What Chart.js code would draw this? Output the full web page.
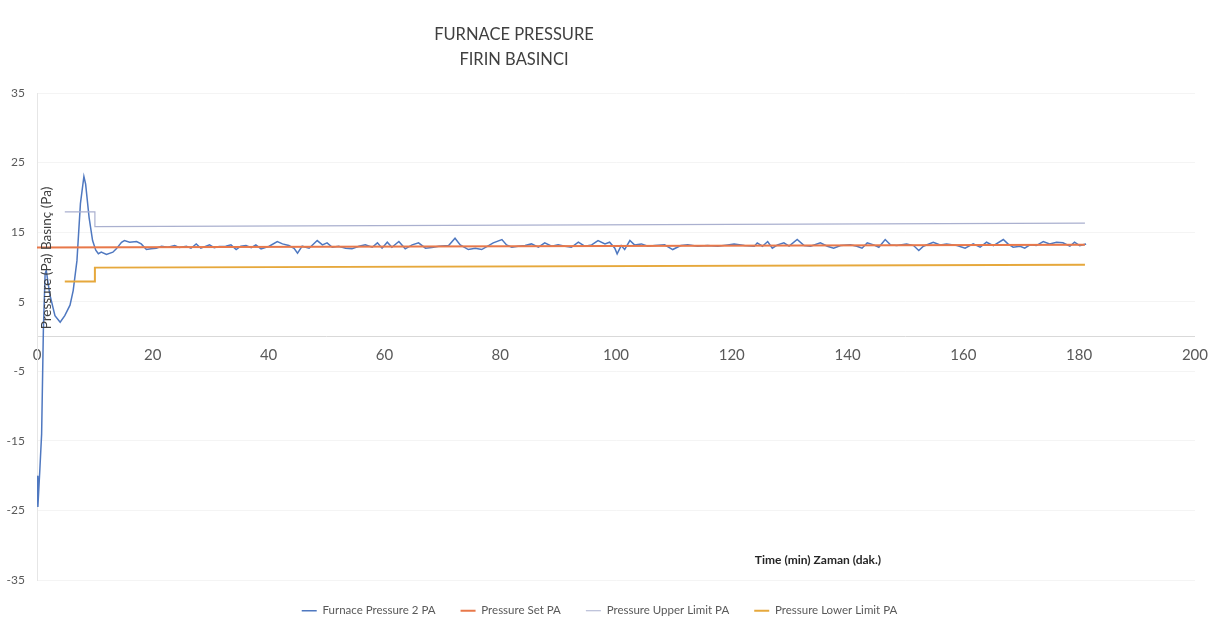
<!DOCTYPE html>
<html>
<head>
<meta charset="utf-8">
<title>Furnace Pressure</title>
<script src="https://cdn.jsdelivr.net/npm/chart.js@4/dist/chart.umd.min.js"></script>
<style>
  html, body { margin: 0; padding: 0; background: #ffffff; }
  #wrap { width: 1218px; height: 628px; }
</style>
</head>
<body>
<div id="wrap"><canvas id="pressureChart" width="1218" height="628"></canvas></div>
<script>
// Texts
const titleLines = ['FURNACE PRESSURE', 'FIRIN BASINCI'];
const yAxisTitle = 'Pressure (Pa) Basınç (Pa)';
const xAxisTitle = 'Time (min) Zaman (dak.)';
const seriesNames = ['Furnace Pressure 2 PA', 'Pressure Set PA', 'Pressure Upper Limit PA', 'Pressure Lower Limit PA'];

// Axis ticks
const yTicks = [-35, -25, -15, -5, 5, 15, 25, 35];

// Furnace pressure (min, Pa)
const furnaceTime = [
    0, 0.15, 0.5, 0.8, 1.1, 1.4, 1.6, 2.2, 3.1, 4.0, 4.8, 5.7, 6.25, 6.9, 7.5, 8.1, 8.4, 9.0, 9.6, 10.15,
    10.6, 11.1, 12.0, 13.1, 13.7, 14.6, 15.1, 16.0, 17.2, 18.0, 18.9, 19.7, 20.6, 21.5, 22.6, 23.8, 24.6, 25.8, 26.6, 27.5,
    28.3, 29.8, 30.6, 31.5, 32.6, 33.5, 34.4, 35.2, 36.1, 37.0, 37.8, 38.7, 40.1, 41.5, 42.4, 43.5, 44.4, 45.0, 45.8, 47.0,
    48.4, 49.3, 50.1, 51.0, 52.1, 53.3,
    54.4, 55.6, 56.7, 57.9, 58.8, 59.6, 60.5, 61.3, 62.5, 63.6, 64.8, 65.9, 67.1, 68.2, 69.4, 71.1, 72.2, 73.1, 74.5, 75.7,
    76.8, 78.0, 78.8, 80.3, 81.1, 82.0, 83.1, 84.3, 85.4, 86.6, 87.7, 88.9, 90.0, 91.2, 92.3, 93.5, 94.6, 95.8,
    96.9, 98.1, 98.9, 99.8, 100.2, 100.9, 101.5, 102.4, 103.2, 104.4, 105.5, 106.7, 108.4, 109.8, 111.2, 112.4, 114.1, 115.8,
    117.6, 119.3, 120.4, 122.2, 123.9, 124.4, 125.3, 126.2, 127.0, 127.9, 129.0, 129.9, 131.3, 132.5, 133.6, 135.3, 136.5,
    137.6, 138.8,
    140.5, 141.6, 142.5, 143.4, 144.5, 145.4, 146.5, 147.4, 148.5, 150.2, 151.4, 152.3, 153.1, 154.8, 156.0, 157.1, 158.9,
    160.3, 161.7, 162.9, 164.0, 165.2, 166.9, 167.7, 168.6, 169.8, 170.6, 171.5, 172.6, 173.8, 174.9, 176.1, 177.2, 178.4,
    179.2, 180.1, 181.2
];
const furnacePa = [
    -20, -24.5, -19, -14, 0.9, 9, 9.5, 6.1, 3.0, 2.05, 3.0, 4.5, 6.6, 10.9, 19.1, 23.0, 21.9, 17.1, 13.8, 12.4,
    11.9, 12.12, 11.78, 12.12, 12.6, 13.55, 13.79, 13.55, 13.65, 13.31, 12.5, 12.6, 12.69, 12.98, 12.83, 13.07, 12.78, 12.98, 12.69, 13.31,
    12.69, 13.17, 12.78, 12.93, 12.98, 13.17, 12.5, 12.98, 13.07, 12.78, 13.17, 12.6, 12.98, 13.65, 13.31, 13.07, 12.69, 11.97, 12.98, 12.69,
    13.79, 13.17, 13.46, 12.83, 12.98, 12.69,
    12.60, 12.98, 13.17, 12.83, 13.46, 12.69, 13.55, 12.83, 13.65, 12.60, 13.17, 13.46, 12.69, 12.78, 12.98, 13.07, 14.13, 13.17, 12.50, 12.69,
    12.50, 13.07, 13.46, 13.94, 13.17, 12.83, 12.98, 13.07, 13.31, 12.83, 13.46, 12.98, 13.17, 12.98, 12.83, 13.55, 12.98, 13.17,
    13.79, 13.31, 13.55, 12.69, 11.88, 13.07, 12.50, 13.79, 13.17, 13.31, 12.98, 13.07, 13.17, 12.50, 13.07, 13.17, 12.98, 13.07,
    12.98, 13.17, 13.31, 13.07, 12.98, 13.46, 12.98, 13.65, 12.69, 13.17, 13.46, 12.98, 13.94, 13.07, 12.98, 13.46, 12.98,
    12.69, 13.07,
    13.17, 12.98, 12.69, 13.46, 13.17, 12.83, 13.94, 13.17, 13.07, 13.31, 13.07, 12.36, 12.98, 13.55, 13.17, 13.31, 13.07,
    12.69, 13.31, 12.83, 13.55, 13.07, 13.94, 13.31, 12.83, 12.98, 12.69, 13.17, 13.07, 13.65, 13.31, 13.55, 13.46, 12.98,
    13.55, 13.07, 13.31
];

// Set point and limits
const setTime = [0, 181];
const setPa = [12.8, 13.2];
const upperTime = [4.8, 10, 10, 181];
const upperPa = [17.9, 17.9, 15.8, 16.3];
const lowerTime = [4.8, 10, 10, 181];
const lowerPa = [7.9, 7.9, 9.9, 10.3];

const FONT = 'Lato, "Open Sans", sans-serif';

function toPoints(xs, ys) {
    return xs.map((x, i) => ({ x: x, y: ys[i] }));
}

// Titles are not centred on the plot in the original, so draw them by hand
const chartTexts = {
    id: 'chartTexts',
    afterDraw(chart) {
        const ctx = chart.ctx;
        ctx.save();
        ctx.fillStyle = '#404040';
        ctx.textAlign = 'center';
        ctx.textBaseline = 'middle';
        ctx.font = '16.5px ' + FONT;
        ctx.fillText(titleLines[0], 514, 35);
        ctx.fillText(titleLines[1], 514, 60);

        ctx.font = 'bold 12px ' + FONT;
        ctx.fillStyle = '#262626';
        ctx.fillText(xAxisTitle, 818, 560);

        ctx.translate(47, 258);
        ctx.rotate(-Math.PI / 2);
        ctx.font = '13.5px ' + FONT;
        ctx.fillStyle = '#404040';
        ctx.fillText(yAxisTitle, 0, 0);
        ctx.restore();
    }
};

const ctxPressure = document.getElementById('pressureChart').getContext('2d');
new Chart(ctxPressure, {
    type: 'line',
    data: {
        datasets: [
            {
                label: seriesNames[0],
                data: toPoints(furnaceTime, furnacePa),
                borderColor: '#4f78c0',
                backgroundColor: '#4f78c0',
                borderWidth: 1.5,
                order: 3
            },
            {
                label: seriesNames[1],
                data: toPoints(setTime, setPa),
                borderColor: '#e8784a',
                backgroundColor: '#e8784a',
                borderWidth: 2,
                order: 0
            },
            {
                label: seriesNames[2],
                data: toPoints(upperTime, upperPa),
                borderColor: '#aab0cf',
                backgroundColor: '#aab0cf',
                borderWidth: 1.2,
                order: 1
            },
            {
                label: seriesNames[3],
                data: toPoints(lowerTime, lowerPa),
                borderColor: '#e6a83c',
                backgroundColor: '#e6a83c',
                borderWidth: 2,
                order: 2
            }
        ]
    },
    options: {
        responsive: false,
        animation: false,
        devicePixelRatio: 1,
        layout: { padding: { top: 93, right: 19, bottom: 1.5, left: 0 } },
        elements: {
            point: { radius: 0, hoverRadius: 0 },
            line: { tension: 0 }
        },
        scales: {
            x: {
                type: 'linear',
                position: { y: 0 },
                min: 0,
                max: 200,
                ticks: {
                    stepSize: 20,
                    color: '#595959',
                    font: { family: FONT, size: 15 },
                    padding: 10,
                    maxRotation: 0
                },
                grid: { display: false, drawTicks: false },
                border: { display: true, color: '#d9d9d9', width: 1 }
            },
            y: {
                type: 'linear',
                min: -35,
                max: 35,
                afterBuildTicks: scale => { scale.ticks = yTicks.map(v => ({ value: v })); },
                afterFit: scale => { scale.width = 37; },
                ticks: {
                    color: '#595959',
                    font: { family: FONT, size: 12 },
                    padding: 12
                },
                grid: { color: '#f4f4f4', drawTicks: false },
                border: { display: true, color: '#e6e6e6' }
            }
        },
        plugins: {
            title: { display: false },
            tooltip: { enabled: false },
            legend: {
                position: 'bottom',
                labels: {
                    color: '#595959',
                    font: { family: FONT, size: 11.5 },
                    usePointStyle: true,
                    pointStyle: 'line',
                    pointStyleWidth: 15,
                    padding: 25,
                    sort: (a, b) => a.datasetIndex - b.datasetIndex
                }
            }
        }
    },
    plugins: [chartTexts]
});
</script>
</body>
</html>
